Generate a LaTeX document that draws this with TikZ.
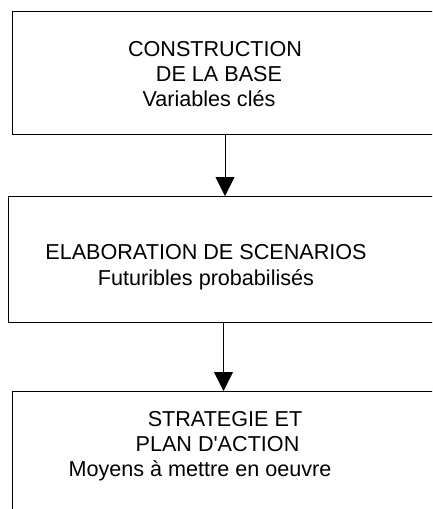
\documentclass[tikz,border=0pt]{standalone}
\usepackage{fontspec}
\setmainfont{Liberation Sans}
\usetikzlibrary{arrows.meta}
\begin{document}
\begin{tikzpicture}[x=1pt,y=-1pt,
  box/.style={draw=black,line width=0.9pt,rectangle,inner sep=0pt,anchor=north west},
  lbl/.style={anchor=base,inner sep=0pt,font=\fontsize{21.6}{25}\selectfont},
  arr/.style={line width=0.9pt,-{Triangle[width=19pt,length=19pt]}}]
\useasboundingbox (0,0) rectangle (432,509);
\clip (0,0) rectangle (432,509);
\node[box,minimum width=500pt,minimum height=123pt] (b1) at (12,11) {};
\node[box,minimum width=500pt,minimum height=126pt] (b2) at (8,196) {};
\node[box,minimum width=500pt,minimum height=140pt] (b3) at (12,391) {};
\node[lbl] (t11) at (215,56) {CONSTRUCTION};
\node[lbl] (t12) at (219,81.5) {DE LA BASE};
\node[lbl] (t13) at (209,106.5) {Variables clés};
\node[lbl] (t21) at (206,259) {ELABORATION DE SCENARIOS};
\node[lbl] (t22) at (206,285) {Futuribles probabilisés};
\node[lbl] (t31) at (225,426.5) {STRATEGIE ET};
\node[lbl] (t32) at (217.5,451.5) {PLAN D\textquotesingle ACTION};
\node[lbl] (t33) at (200,476.5) {Moyens à mettre en oeuvre};
\coordinate (a1) at (225,0);
\coordinate (a2) at (223.5,0);
\draw[arr] (b1.south -| a1) -- (b2.north -| a1);
\draw[arr] (b2.south -| a2) -- (b3.north -| a2);
\end{tikzpicture}
\end{document}
